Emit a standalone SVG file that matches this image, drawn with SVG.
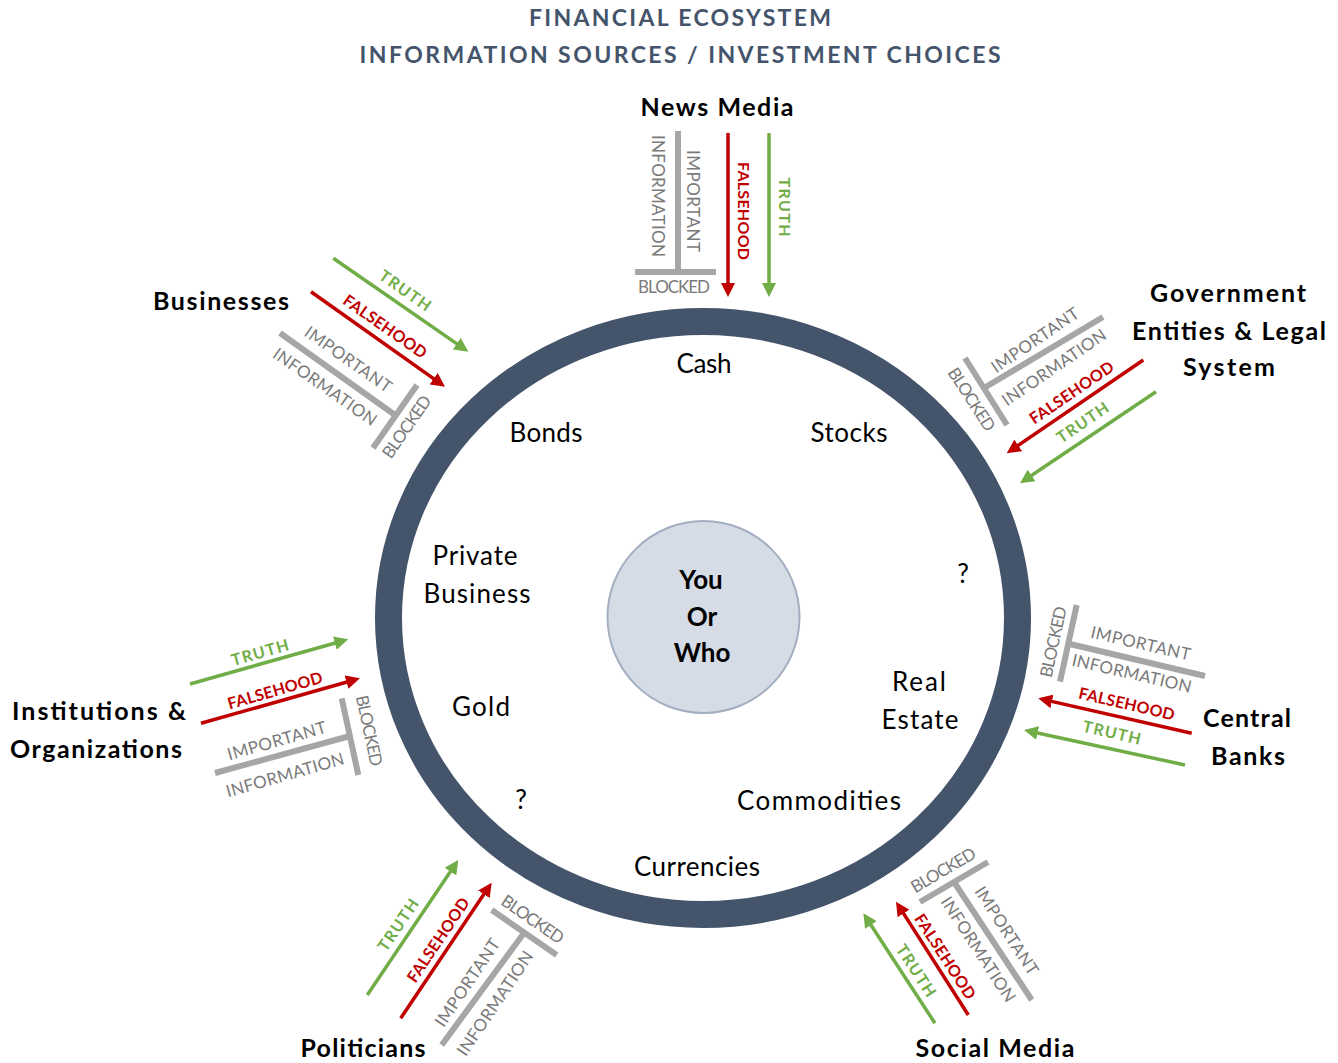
<svg xmlns="http://www.w3.org/2000/svg" width="1338" height="1063" viewBox="0 0 1338 1063">
<defs>
<style>
text{font-family:Lato,"Liberation Sans",sans-serif;text-anchor:middle}
.title{font-size:23px;font-weight:bold;fill:#44546a}
.lbl{font-size:26px;fill:#000}
.you{font-size:26px;font-weight:bold;fill:#000}
.src{font-size:25px;font-weight:bold;fill:#000}
.g{font-size:17px;fill:#7a7a7a}
.f{font-size:16px;font-weight:bold;fill:#c00000}
.t{font-size:16px;font-weight:bold;fill:#70ad47}
.bar{stroke:#a6a6a6;stroke-width:6;fill:none}
.ra{stroke:#c00000;stroke-width:3.5;fill:none;marker-end:url(#hr)}
.ga{stroke:#70ad47;stroke-width:3.5;fill:none;marker-end:url(#hg)}
</style>
<marker id="hr" markerUnits="userSpaceOnUse" markerWidth="16" markerHeight="14" refX="6" refY="7" orient="auto"><path d="M0,0 L14,7 L0,14 z" fill="#c00000"/></marker>
<marker id="hg" markerUnits="userSpaceOnUse" markerWidth="16" markerHeight="14" refX="6" refY="7" orient="auto"><path d="M0,0 L14,7 L0,14 z" fill="#70ad47"/></marker>
</defs>
<rect width="1338" height="1063" fill="#fff"/>
<g id="title">
<text class="title" x="680" y="26" textLength="302">FINANCIAL ECOSYSTEM</text>
<text class="title" x="680" y="63" textLength="641">INFORMATION SOURCES / INVESTMENT CHOICES</text>
</g>
<g id="ecosystem-ring">
<ellipse cx="703" cy="618" rx="314.5" ry="296.5" fill="none" stroke="#44546a" stroke-width="27"/>
</g>
<g id="investment-choices">
<text class="lbl" x="704" y="373" textLength="55">Cash</text>
<text class="lbl" x="546" y="442" textLength="73">Bonds</text>
<text class="lbl" x="849" y="442" textLength="77">Stocks</text>
<text class="lbl" x="475" y="565" textLength="85">Private</text>
<text class="lbl" x="477" y="603" textLength="107">Business</text>
<text class="lbl" x="963" y="583">?</text>
<text class="lbl" x="919" y="691" textLength="54">Real</text>
<text class="lbl" x="920" y="729" textLength="77">Estate</text>
<text class="lbl" x="481" y="716" textLength="58">Gold</text>
<text class="lbl" x="521" y="809">?</text>
<text class="lbl" x="819" y="810" textLength="164">Commodities</text>
<text class="lbl" x="697" y="876" textLength="126">Currencies</text>
</g>
<g id="you-or-who">
<circle cx="703.5" cy="617" r="96" fill="#d6dce5" stroke="#a3aec0" stroke-width="2"/>
<text class="you" x="701" y="589">You</text>
<text class="you" x="702" y="626">Or</text>
<text class="you" x="702" y="662">Who</text>
</g>
<g id="news-media"><text class="src" x="717" y="116" textLength="153">News Media</text></g>
<g id="businesses"><text class="src" x="221" y="310" textLength="136">Businesses</text></g>
<g id="government"><text class="src" x="1228" y="302" textLength="156">Government</text><text class="src" x="1229" y="340" textLength="194">Entities &amp; Legal</text><text class="src" x="1229" y="376" textLength="92">System</text></g>
<g id="central-banks"><text class="src" x="1247" y="727" textLength="88">Central</text><text class="src" x="1248" y="765" textLength="74">Banks</text></g>
<g id="institutions"><text class="src" x="99" y="720" textLength="174">Institutions  &amp;</text><text class="src" x="96" y="758" textLength="172">Organizations</text></g>
<g id="politicians"><text class="src" x="363" y="1057" textLength="125">Politicians</text></g>
<g id="social-media"><text class="src" x="995" y="1057" textLength="159">Social Media</text></g>
<g id="connectors">
<g id="c-news">
<path class="bar" d="M678,131 L678,272 M635,272 L716,272"/>
<path class="ra" d="M728,133 L728,289"/>
<path class="ga" d="M769,133 L769,289"/>
<text class="g" transform="translate(657.5,196) rotate(90)" y="6" textLength="122">INFORMATION</text>
<text class="g" transform="translate(693,201) rotate(90)" y="6" textLength="102">IMPORTANT</text>
<text class="g" transform="translate(674,287)" y="6" textLength="72">BLOCKED</text>
<text class="f" transform="translate(743,211) rotate(90)" y="5.5" textLength="98">FALSEHOOD</text>
<text class="t" transform="translate(784,207) rotate(90)" y="5.5" textLength="59">TRUTH</text>
</g>
<g id="c-businesses">
<path class="bar" d="M280,333 L395,415 M417,385 L373,448"/>
<path class="ra" d="M311,291.7 L438.5,382.1"/>
<path class="ga" d="M333.3,258.3 L461.7,347.1"/>
<text class="g" transform="translate(325,386.7) rotate(35)" y="6" textLength="122">INFORMATION</text>
<text class="g" transform="translate(348.3,359.3) rotate(35)" y="6" textLength="102">IMPORTANT</text>
<text class="g" transform="translate(406.7,426.7) rotate(-55)" y="6" textLength="72">BLOCKED</text>
<text class="f" transform="translate(385,326.7) rotate(35)" y="5.5" textLength="98">FALSEHOOD</text>
<text class="t" transform="translate(405,290.7) rotate(35)" y="5.5" textLength="59">TRUTH</text>
</g>
<g id="c-government">
<path class="bar" d="M1103,317 L984,388 M965,358 L1007,425"/>
<path class="ra" d="M1143.3,360 L1013.3,448.8"/>
<path class="ga" d="M1156,391.7 L1026.6,478.8"/>
<text class="g" transform="translate(1054,367.3) rotate(-34.3)" y="6" textLength="122">INFORMATION</text>
<text class="g" transform="translate(1035,340) rotate(-34.3)" y="6" textLength="102">IMPORTANT</text>
<text class="g" transform="translate(971.7,399.3) rotate(57)" y="6" textLength="72">BLOCKED</text>
<text class="f" transform="translate(1071.7,392.7) rotate(-34.3)" y="5.5" textLength="98">FALSEHOOD</text>
<text class="t" transform="translate(1082.7,422.7) rotate(-34.3)" y="5.5" textLength="59">TRUTH</text>
</g>
<g id="c-central-banks">
<path class="bar" d="M1205,676 L1070,644 M1076.7,605 L1060,681.7"/>
<path class="ra" d="M1191.7,733.3 L1046.1,700.1"/>
<path class="ga" d="M1185,765 L1031.8,731.7"/>
<text class="g" transform="translate(1131.7,673.3) rotate(13)" y="6" textLength="122">INFORMATION</text>
<text class="g" transform="translate(1140.7,643.3) rotate(13)" y="6" textLength="102">IMPORTANT</text>
<text class="g" transform="translate(1053.3,641.7) rotate(-77.7)" y="6" textLength="72">BLOCKED</text>
<text class="f" transform="translate(1126.7,704) rotate(13)" y="5.5" textLength="98">FALSEHOOD</text>
<text class="t" transform="translate(1111.7,732.7) rotate(13)" y="5.5" textLength="59">TRUTH</text>
</g>
<g id="c-institutions">
<path class="bar" d="M215,773 L350,736 M341.7,698.3 L358.3,775"/>
<path class="ra" d="M201,723.3 L352.3,680.5"/>
<path class="ga" d="M190,684 L340.6,641.5"/>
<text class="g" transform="translate(285,775) rotate(-16)" y="6" textLength="122">INFORMATION</text>
<text class="g" transform="translate(276.7,740.7) rotate(-16)" y="6" textLength="102">IMPORTANT</text>
<text class="g" transform="translate(369.3,730.7) rotate(77.8)" y="6" textLength="72">BLOCKED</text>
<text class="f" transform="translate(275,690.7) rotate(-16)" y="5.5" textLength="98">FALSEHOOD</text>
<text class="t" transform="translate(260,652.7) rotate(-16)" y="5.5" textLength="59">TRUTH</text>
</g>
<g id="c-politicians">
<path class="bar" d="M441.7,1045 L524,933 M491.7,910 L556.7,955"/>
<path class="ra" d="M400.7,1018.3 L487.2,889.3"/>
<path class="ga" d="M367.3,995 L453.8,866.6"/>
<text class="g" transform="translate(495,1003.3) rotate(-56)" y="6" textLength="122">INFORMATION</text>
<text class="g" transform="translate(467.3,982.7) rotate(-56)" y="6" textLength="102">IMPORTANT</text>
<text class="g" transform="translate(532.7,919.3) rotate(34.7)" y="6" textLength="72">BLOCKED</text>
<text class="f" transform="translate(438.3,940) rotate(-56)" y="5.5" textLength="98">FALSEHOOD</text>
<text class="t" transform="translate(398.3,925) rotate(-56)" y="5.5" textLength="59">TRUTH</text>
</g>
<g id="c-social-media">
<path class="bar" d="M1031.7,1000 L954,882 M920,902 L988,862"/>
<path class="ra" d="M968.3,1015 L900.3,908.4"/>
<path class="ga" d="M935,1023.3 L867.7,920"/>
<text class="g" transform="translate(978.3,949.3) rotate(57)" y="6" textLength="122">INFORMATION</text>
<text class="g" transform="translate(1006.7,930.7) rotate(57)" y="6" textLength="102">IMPORTANT</text>
<text class="g" transform="translate(943.3,870) rotate(-30.5)" y="6" textLength="72">BLOCKED</text>
<text class="f" transform="translate(945,956.7) rotate(57)" y="5.5" textLength="98">FALSEHOOD</text>
<text class="t" transform="translate(916,970.7) rotate(57)" y="5.5" textLength="59">TRUTH</text>
</g>
</g>
</svg>
